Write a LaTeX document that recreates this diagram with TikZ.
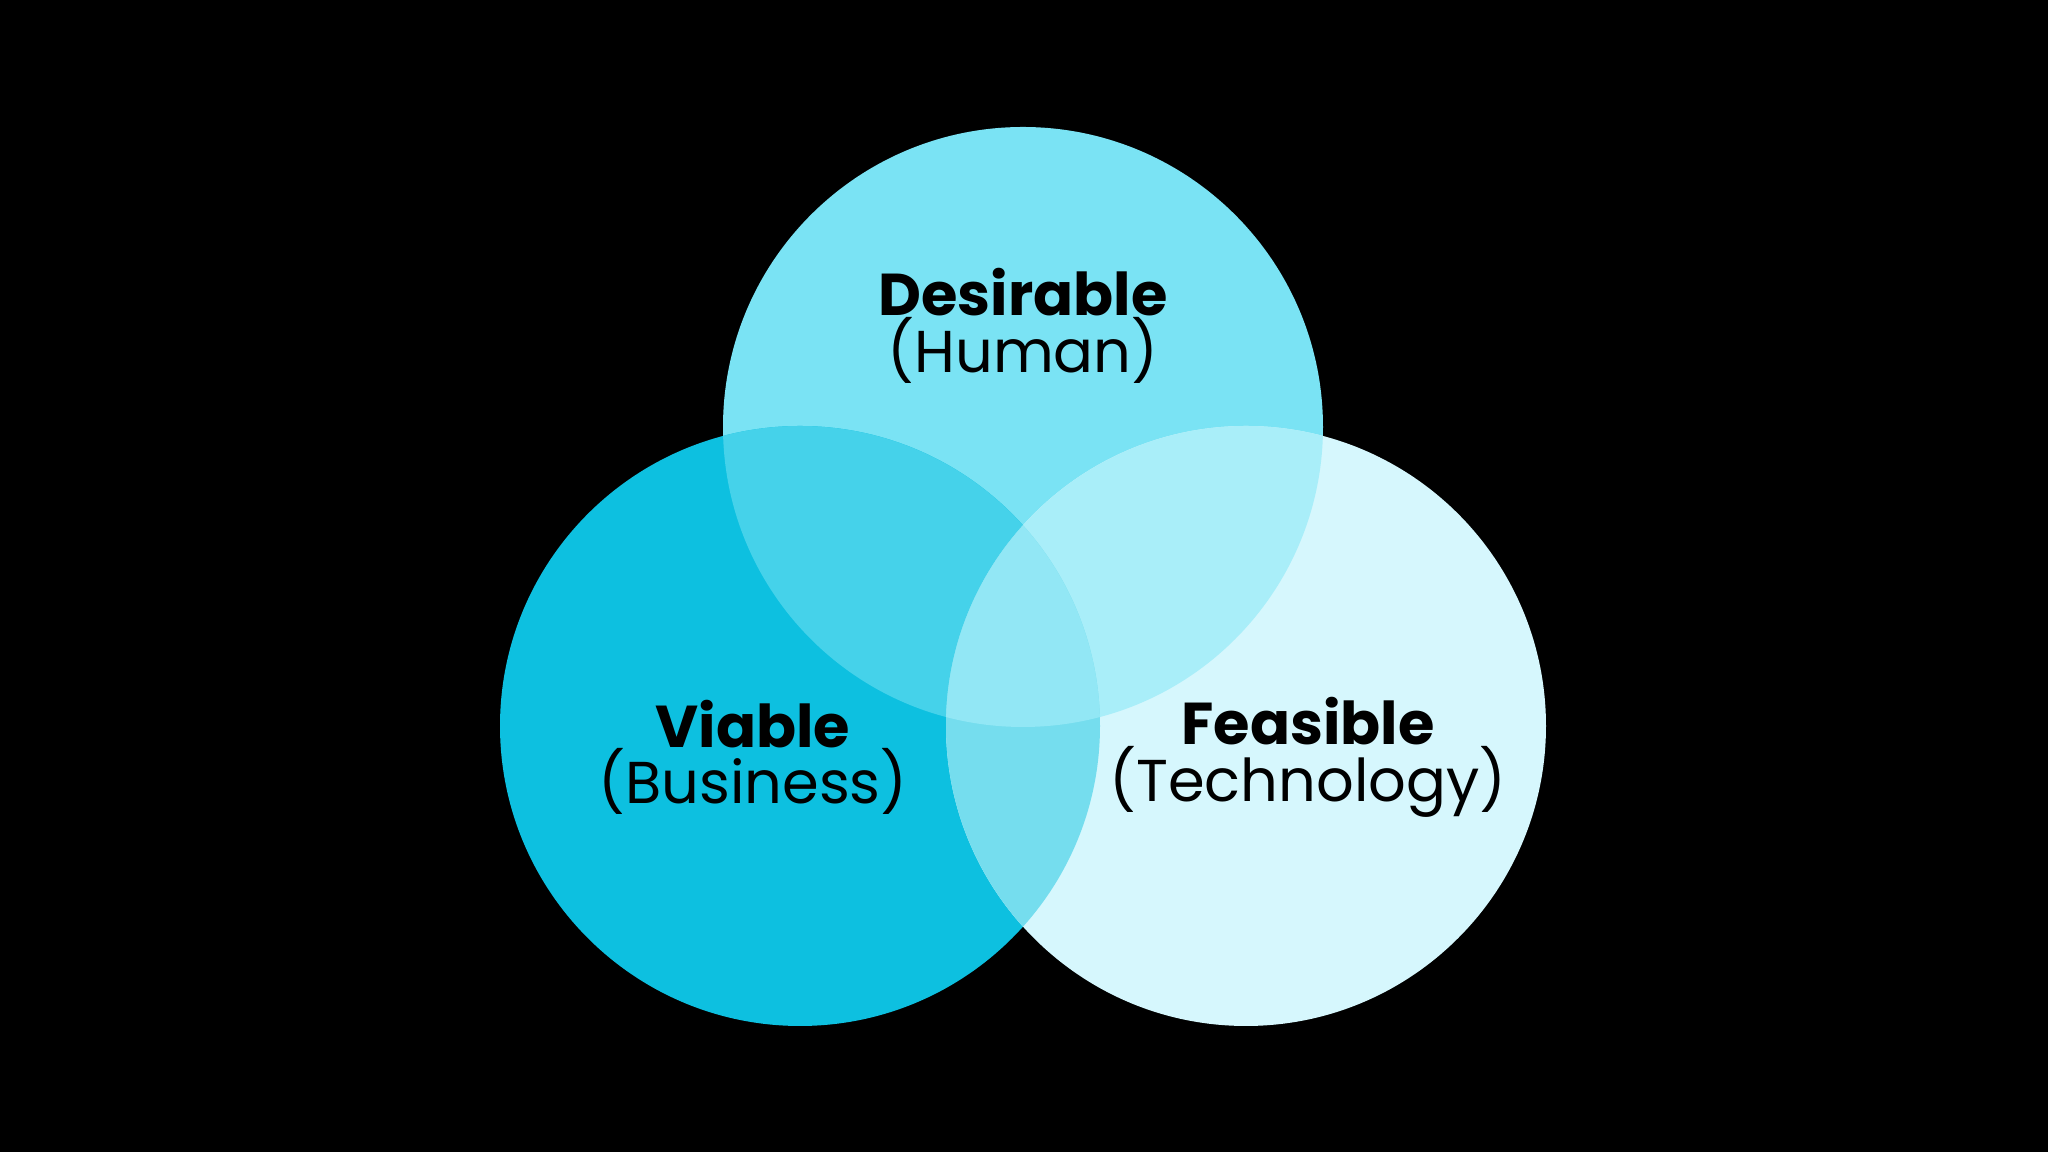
\documentclass[tikz,border=0pt]{standalone}
\usepackage{fontspec}
\setmainfont{Poppins}
\usepackage{tkz-euclide}
\usepackage{amsmath}

\definecolor{humancol}{HTML}{7AE3F4}
\definecolor{businesscol}{HTML}{0DC0E0}
\definecolor{techcol}{HTML}{D6F7FD}
\definecolor{hbcol}{HTML}{45D2EA}
\definecolor{htcol}{HTML}{A9EEF9}
\definecolor{btcol}{HTML}{75DDEE}
\definecolor{allcol}{HTML}{92E7F5}

\tikzset{
  venntext/.style={align=center, text=black, inner sep=0pt,
    font=\fontsize{16.8pt}{15.7pt}\selectfont}
}

\begin{document}
\begin{tikzpicture}
    \fill[black] (0,0) rectangle (20.48,11.52);
    \tkzDefPoint(10.23,7.25){H}
    \tkzDefPoint(8.00,4.26){B}
    \tkzDefPoint(12.46,4.26){T}
    % the three sets
    \fill[humancol] (H) circle (3);
    \fill[businesscol] (B) circle (3);
    \fill[techcol] (T) circle (3);
    % overlaps
    \begin{scope}
        \clip (H) circle (3);
        \fill[hbcol] (B) circle (3);
        \fill[htcol] (T) circle (3);
    \end{scope}
    \begin{scope}
        \clip (B) circle (3);
        \fill[btcol] (T) circle (3);
        \clip (T) circle (3);
        \fill[allcol] (H) circle (3);
    \end{scope}
    % labels
    \node[venntext] (desirable) at (10.23,8.26) {\textbf{Desirable}\\[-0.8pt](Human)};
    \node[venntext] (viable) at (7.53,3.945) {\textbf{Viable}\\[-0.8pt](Business)};
    \node[venntext] (feasible) at (13.08,3.945) {\textbf{Feasible}\\[-0.8pt](Technology)};
\end{tikzpicture}
\end{document}
